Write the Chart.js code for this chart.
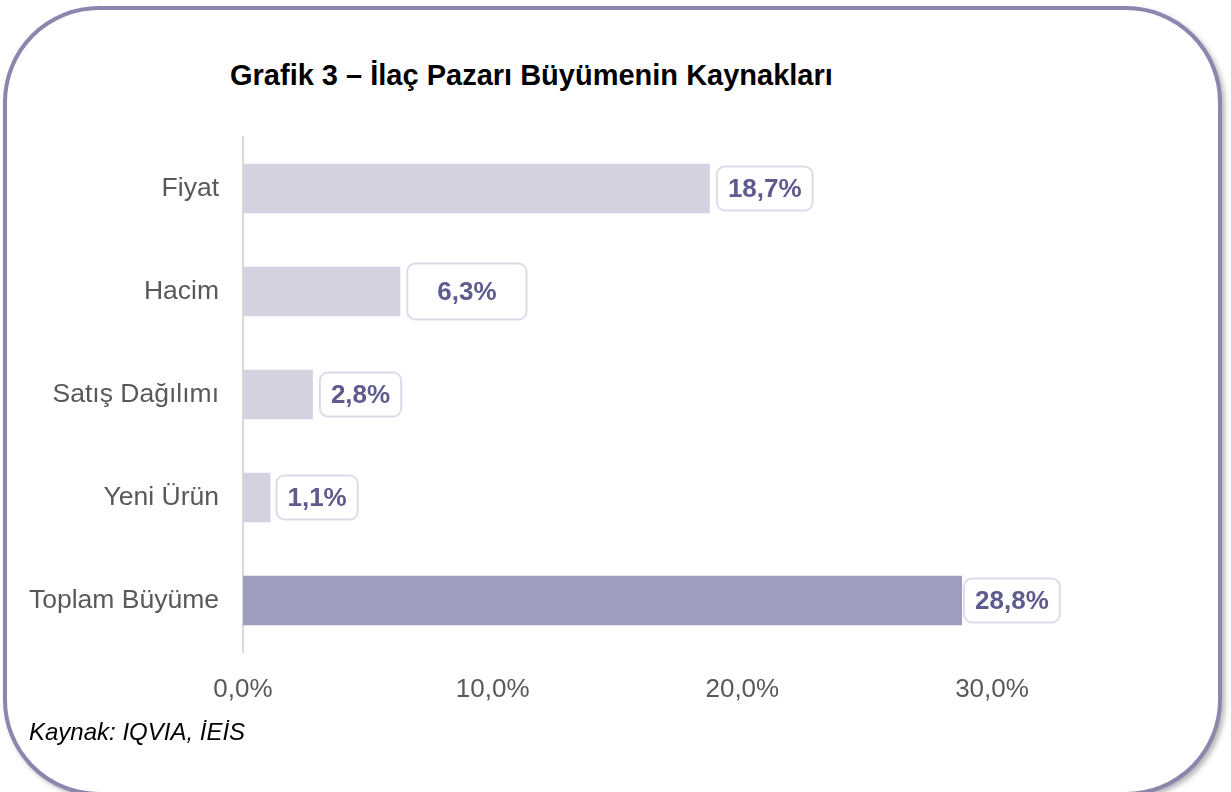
<!DOCTYPE html>
<html>
<head>
  <title>Grafik 3 – İlaç Pazarı Büyümenin Kaynakları</title>
  <script src="https://cdn.jsdelivr.net/npm/chart.js"></script>
  <style>
    body {
      margin: 0;
      width: 1231px;
      height: 792px;
      background: #ffffff;
      overflow: hidden;
      font-family: "Liberation Sans", Arial, sans-serif;
      position: relative;
    }
    #frame {
      position: absolute;
      left: 3px;
      top: 6px;
      width: 1211px;
      height: 782px;
      border: 4px solid #8a86ad;
      border-radius: 96px;
      box-shadow: 3px 3px 5px rgba(0, 0, 0, 0.28);
      background: #ffffff;
    }
    #title {
      position: absolute;
      left: 230px;
      top: 61px;
      font-weight: bold;
      font-size: 29px;
      line-height: 1;
      color: #000;
      white-space: nowrap;
    }
    #source {
      position: absolute;
      left: 29px;
      top: 720px;
      font-style: italic;
      font-size: 24px;
      line-height: 1;
      color: #000;
      white-space: nowrap;
    }
    #chart {
      position: absolute;
      left: 0;
      top: 0;
    }
  </style>
</head>
<body>
  <div id="frame"></div>
  <div id="title">Grafik 3 – İlaç Pazarı Büyümenin Kaynakları</div>
  <canvas id="chart" width="1231" height="792"></canvas>
  <div id="source">Kaynak: IQVIA, İEİS</div>

  <script>
    // chart values
    const categories = ['Fiyat', 'Hacim', 'Satış Dağılımı', 'Yeni Ürün', 'Toplam Büyüme'];
    const growth = [18.7, 6.3, 2.8, 1.1, 28.8];
    const xTicks = [0, 10, 20, 30];

    const fmt = v => v.toFixed(1).replace('.', ',') + '%';

    // rounded label boxes to the right of each bar
    const boxLabels = {
      id: 'boxLabels',
      afterDatasetsDraw(chart, args, opts) {
        const ctx = chart.ctx;
        const meta = chart.getDatasetMeta(0);
        ctx.save();
        ctx.font = 'bold 26px "Liberation Sans", Arial, sans-serif';
        meta.data.forEach((bar, i) => {
          const txt = fmt(growth[i]);
          const tw = ctx.measureText(txt).width;
          const px = opts.padX[i], py = opts.padY[i];
          const w = tw + px * 2;
          const h = 26 + py * 2;
          const x = bar.x + opts.gap[i];
          const y = bar.y - h / 2;
          ctx.beginPath();
          ctx.roundRect(x, y, w, h, 8);
          ctx.fillStyle = '#ffffff';
          ctx.fill();
          ctx.lineWidth = 2;
          ctx.strokeStyle = '#dddbea';
          ctx.stroke();
          ctx.fillStyle = '#5e5b8e';
          ctx.textAlign = 'center';
          ctx.textBaseline = 'middle';
          ctx.fillText(txt, x + w / 2, bar.y + 1);
        });
        ctx.restore();
      }
    };

    new Chart(document.getElementById('chart'), {
      type: 'bar',
      data: {
        labels: categories,
        datasets: [{
          data: growth,
          backgroundColor: ['#d3d2e0', '#d3d2e0', '#d3d2e0', '#d3d2e0', '#9e9dbd'],
          categoryPercentage: 1,
          barPercentage: 0.48
        }]
      },
      options: {
        indexAxis: 'y',
        responsive: false,
        animation: false,
        layout: { padding: { left: 0, top: 137, right: 239, bottom: 80 } },
        plugins: {
          legend: { display: false },
          tooltip: { enabled: false },
          boxLabels: {
            padX: [11, 30, 11, 11, 11],
            padY: [9, 15, 9, 9, 9],
            gap: [7, 7, 7, 6, 2]
          }
        },
        scales: {
          x: {
            min: 0,
            max: 30,
            afterBuildTicks: s => { s.ticks = xTicks.map(v => ({ value: v })); },
            afterFit: s => { s.height = 60; },
            grid: { display: false, drawTicks: false },
            border: { display: false },
            ticks: {
              padding: 22,
              color: '#595959',
              font: { family: '"Liberation Sans", Arial, sans-serif', size: 26 },
              callback: v => fmt(v)
            }
          },
          y: {
            afterFit: s => { s.width = 243; },
            grid: { display: false, drawTicks: false },
            border: { display: true, color: '#d9d9d9', width: 2 },
            ticks: {
              padding: 24,
              color: '#595959',
              font: { family: '"Liberation Sans", Arial, sans-serif', size: 26.5 }
            }
          }
        }
      },
      plugins: [boxLabels]
    });
  </script>
</body>
</html>
